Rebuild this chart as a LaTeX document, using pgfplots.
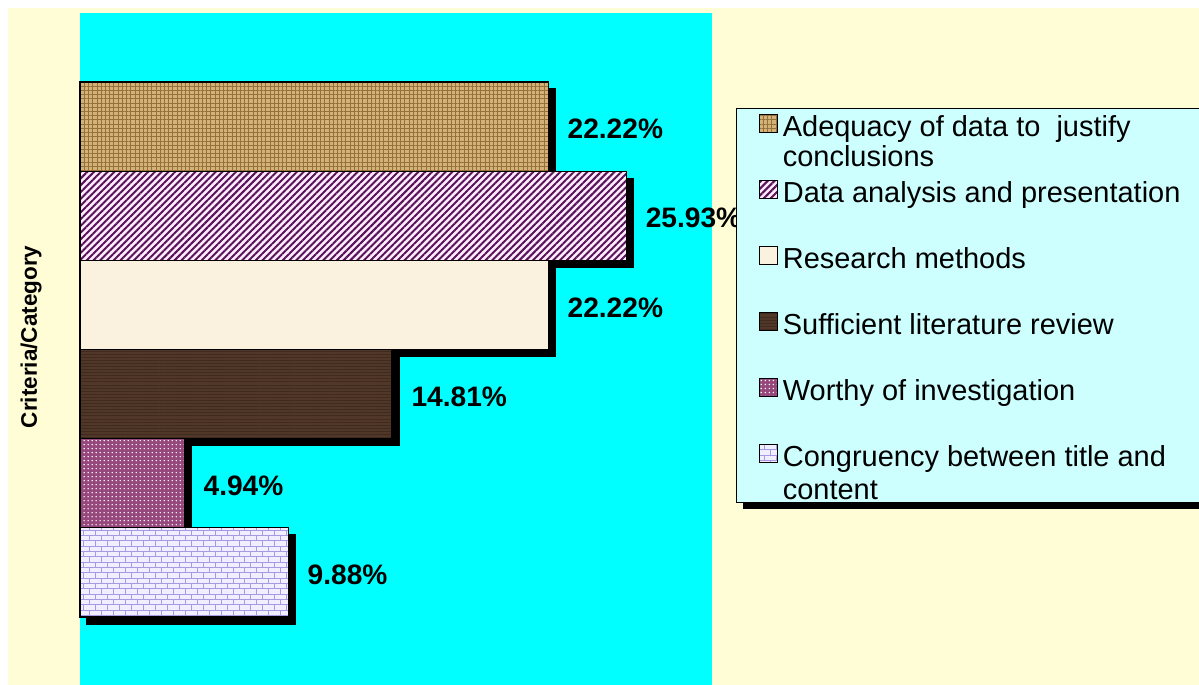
\documentclass[border=0pt]{standalone}
\usepackage{pgfplots}
\pgfplotsset{compat=1.18}
\usepackage{fontspec}
\setmainfont{Liberation Sans}
\usetikzlibrary{patterns, patterns.meta, shadows}

\definecolor{creambg}{RGB}{255,253,214}
\definecolor{plotcyan}{RGB}{0,255,255}
\definecolor{legcyan}{RGB}{206,255,255}
\definecolor{burlap}{RGB}{210,178,118}
\definecolor{burlapdark}{RGB}{150,112,58}
\definecolor{stripe}{RGB}{88,18,88}
\definecolor{stripebg}{RGB}{255,236,255}
\definecolor{parch}{RGB}{250,242,222}
\definecolor{wood}{RGB}{80,55,40}
\definecolor{wooddark}{RGB}{62,42,30}
\definecolor{mauve}{RGB}{150,72,125}
\definecolor{brickline}{RGB}{165,155,228}
\definecolor{brickbg}{RGB}{240,238,255}

% small brick texture for the last bar
\pgfdeclarepatternformonly{smallbricks}{\pgfqpoint{-0.5pt}{-0.5pt}}{\pgfqpoint{9pt}{8.1pt}}{\pgfqpoint{8.5pt}{7.6pt}}{
  \pgfsetlinewidth{0.7pt}
  \pgfpathmoveto{\pgfqpoint{0pt}{0pt}}\pgfpathlineto{\pgfqpoint{8.5pt}{0pt}}
  \pgfpathmoveto{\pgfqpoint{0pt}{3.8pt}}\pgfpathlineto{\pgfqpoint{8.5pt}{3.8pt}}
  \pgfpathmoveto{\pgfqpoint{0pt}{0pt}}\pgfpathlineto{\pgfqpoint{0pt}{3.8pt}}
  \pgfpathmoveto{\pgfqpoint{4.25pt}{3.8pt}}\pgfpathlineto{\pgfqpoint{4.25pt}{7.6pt}}
  \pgfusepath{stroke}
}

\makeatletter
\tikzset{nopre/.code={\let\tikz@preactions\pgfutil@empty}}
\makeatother

\tikzset{
  fA/.style={fill=burlap, postaction={pattern={Hatch[distance=3pt,line width=0.6pt]}, pattern color=burlapdark}},
  fB/.style={fill=stripebg, postaction={pattern={Lines[angle=45,distance=3.4pt,line width=1.4pt]}, pattern color=stripe}},
  fC/.style={fill=parch},
  fD/.style={fill=wood, postaction={pattern={Lines[angle=0,distance=2.2pt,line width=0.6pt]}, pattern color=wooddark}},
  fE/.style={fill=mauve, postaction={pattern={Dots[distance=2.85pt,radius=0.55pt]}, pattern color=white}},
  fF/.style={fill=brickbg, postaction={pattern=smallbricks, pattern color=brickline}},
  barshadow/.style={drop shadow={shadow xshift=1.75mm, shadow yshift=-1.75mm, fill=black, opacity=1}},
}

\newcommand{\ls}{\rule[-1.5mm]{0pt}{8mm}}
\newcommand{\twoline}[3]{\vtop{\offinterlineskip\hbox{\ls #1}\kern #3\hbox{\ls #2}}}

\begin{document}
\begin{tikzpicture}
\path[use as bounding box] (0,0) rectangle (299.75mm,171.25mm);
\fill[creambg] (2mm,0) rectangle (299.75mm,169.25mm);
\begin{axis}[
  at={(20mm,0mm)}, anchor=south west,
  scale only axis, width=158mm, height=168mm,
  xmin=0, xmax=30, ymin=-1.263, ymax=6.274,
  ticks=none, axis line style={draw=none},
  axis background/.style={fill=plotcyan},
  clip=false,
  point meta=x,
  /pgf/number format/assume math mode=true,
  nodes near coords={\pgfmathprintnumber[fixed,fixed zerofill,precision=2]{\pgfplotspointmeta}\%},
  every node near coord/.append style={anchor=west, inner sep=0pt, xshift=4.75mm, yshift=-0.6mm,
    text=black, font=\bfseries\fontsize{20}{24}\selectfont},
  ylabel={Criteria/Category},
  every axis y label/.style={at={(rel axis cs:-0.0775,0.518)}, rotate=90, anchor=center,
    font=\bfseries\fontsize{16}{19}\selectfont},
  legend image code/.code={\draw[nopre, #1, draw=black, line width=0.6pt] (0mm,1mm) rectangle (4.5mm,5.5mm);},
  legend style={at={(1.038,0.8586)}, anchor=north west, fill=legcyan, draw=black, line width=0.6pt,
    inner xsep=5.75mm, inner ysep=0.5mm, outer sep=0pt, row sep=9.5mm, column sep=1.25mm,
    cells={anchor=base west}, nodes={inner sep=0pt},
    font=\fontsize{20.6}{24}\selectfont,
    drop shadow={shadow xshift=1.75mm, shadow yshift=-1.75mm, fill=black, opacity=1}},
]
\addplot[xbar, bar shift=0pt, bar width=1, fA, barshadow, draw=black, line width=0.8pt, forget plot]
  coordinates {(22.22,5)};
\addplot[xbar, bar shift=0pt, bar width=1, fB, barshadow, draw=black, line width=0.8pt, forget plot]
  coordinates {(25.93,4)};
\addplot[xbar, bar shift=0pt, bar width=1, fC, barshadow, draw=black, line width=0.8pt, forget plot]
  coordinates {(22.22,3)};
\addplot[xbar, bar shift=0pt, bar width=1, fD, barshadow, draw=black, line width=0.8pt, forget plot]
  coordinates {(14.81,2)};
\addplot[xbar, bar shift=0pt, bar width=1, fE, barshadow, draw=black, line width=0.8pt, forget plot]
  coordinates {(4.94,1)};
\addplot[xbar, bar shift=0pt, bar width=1, fF, barshadow, draw=black, line width=0.8pt, forget plot]
  coordinates {(9.88,0)};

\addlegendimage{fA}
\addlegendentry{\raisebox{0pt}[6.5mm][0.5mm]{\twoline{\makebox[105mm][l]{Adequacy of data to\ \ justify}}{conclusions}{-0.5mm}}}
\addlegendimage{fB}
\addlegendentry{\ls Data analysis and presentation}
\addlegendimage{fC}
\addlegendentry{\ls Research methods}
\addlegendimage{fD}
\addlegendentry{\ls Sufficient literature review}
\addlegendimage{fE}
\addlegendentry{\ls Worthy of investigation}
\addlegendimage{fF, insert path={(0mm,-8.25mm)}}
\addlegendentry{\twoline{Congruency between title and}{content}{0.25mm}}
\end{axis}
\end{tikzpicture}
\end{document}
